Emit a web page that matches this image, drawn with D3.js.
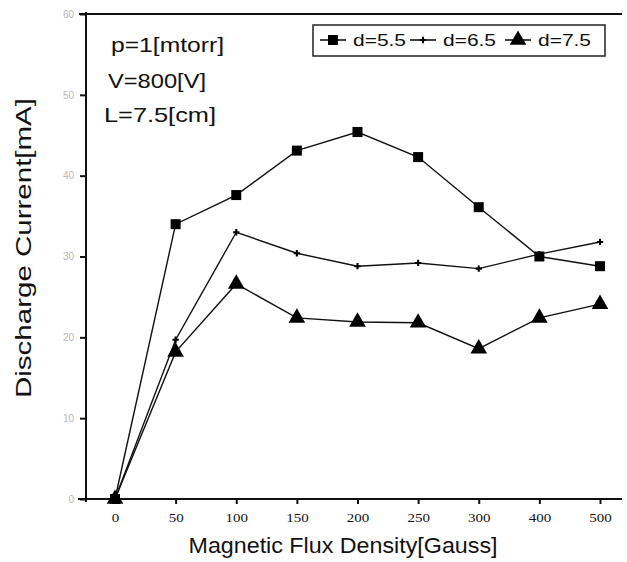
<!DOCTYPE html>
<html><head><meta charset="utf-8">
<script src="https://cdn.jsdelivr.net/npm/d3@7"></script>
<style>body{margin:0;background:#fff}svg{display:block}</style>
</head><body>
<script>
const categories = ["0","50","100","150","200","250","300","400","500"];
const d55 = [0, 34.0, 37.6, 43.1, 45.4, 42.3, 36.1, 30.0, 28.8];
const d65 = [0, 19.7, 33.0, 30.4, 28.8, 29.2, 28.5, 30.3, 31.8];
const d75 = [0, 18.2, 26.6, 22.4, 21.9, 21.8, 18.6, 22.4, 24.1];
const yTicks = [0, 10, 20, 30, 40, 50, 60];
const seriesNames = ["d=5.5", "d=6.5", "d=7.5"];
const notes = ["p=1[mtorr]", "V=800[V]", "L=7.5[cm]"];

const W = 627, H = 562;
const svg = d3.select("body").append("svg").attr("width", W).attr("height", H)
  .style("font-family", "'Liberation Sans', Arial, sans-serif");

const x = d3.scalePoint().domain(categories).range([115, 600]);
const y = d3.scaleLinear().domain([0, 60]).range([499, 14]);

// frame lines
svg.append("line").attr("x1", 79).attr("x2", 622).attr("y1", y(60)).attr("y2", y(60))
  .attr("stroke", "#111").attr("stroke-width", 2);
svg.append("line").attr("x1", 78).attr("x2", 622).attr("y1", y(0)).attr("y2", y(0))
  .attr("stroke", "#111").attr("stroke-width", 2);
svg.append("line").attr("x1", 86).attr("x2", 86).attr("y1", 12).attr("y2", 502)
  .attr("stroke", "#111").attr("stroke-width", 2);

// x axis
const xa = svg.append("g").attr("transform", `translate(0,${y(0)})`)
  .call(d3.axisBottom(x).tickSize(5).tickPadding(9));
xa.select(".domain").remove();
xa.selectAll(".tick line").attr("stroke", "#111").attr("stroke-width", 2);
xa.selectAll(".tick text").attr("fill", "#111").style("font-size", "13px")
  .style("font-family", "'Liberation Serif', serif")
  .attr("textLength", d => d.length * 7.5).attr("lengthAdjust", "spacingAndGlyphs");

// y axis
const ya = svg.append("g").attr("transform", `translate(86,0)`)
  .call(d3.axisLeft(y).tickValues(yTicks).tickSize(6).tickPadding(6));
ya.select(".domain").remove();
ya.selectAll(".tick line").attr("stroke", "#111").attr("stroke-width", 2);
ya.selectAll(".tick text").attr("fill", "#b8b8b8").style("font-size", "10px");

// axis titles
svg.append("text").attr("x", 343).attr("y", 553).attr("text-anchor", "middle")
  .style("font-size", "22px").attr("fill", "#111")
  .attr("textLength", 309).attr("lengthAdjust", "spacingAndGlyphs")
  .text("Magnetic Flux Density[Gauss]");
svg.append("text").attr("transform", "translate(31,248) rotate(-90)").attr("text-anchor", "middle")
  .style("font-size", "22px").attr("fill", "#111")
  .attr("textLength", 300).attr("lengthAdjust", "spacingAndGlyphs")
  .text("Discharge Current[mA]");

// notes
const noteY = [52, 88, 122], noteX = [111, 108, 104], noteLen = [113, 98, 112];
notes.forEach((t, i) => {
  svg.append("text").attr("x", noteX[i]).attr("y", noteY[i])
    .style("font-size", "21px").attr("fill", "#111")
    .attr("textLength", noteLen[i]).attr("lengthAdjust", "spacingAndGlyphs").text(t);
});

const series = [
  {name: seriesNames[0], values: d55, sym: d3.symbolSquare, size: 100},
  {name: seriesNames[1], values: d65, sym: d3.symbolCross, size: 22},
  {name: seriesNames[2], values: d75, sym: d3.symbolTriangle, size: 120}
];

const line = d3.line().x((d, i) => x(categories[i])).y(d => y(d));
series.forEach(s => {
  svg.append("path").datum(s.values).attr("d", line)
    .attr("fill", "none").attr("stroke", "#111").attr("stroke-width", 1.4);
  svg.append("g").selectAll("path").data(s.values).join("path")
    .attr("transform", (d, i) => `translate(${x(categories[i])},${y(d)})`)
    .attr("d", d3.symbol().type(s.sym).size(s.size))
    .attr("fill", "#000");
});

// legend
const lg = svg.append("g");
lg.append("rect").attr("x", 313).attr("y", 25).attr("width", 292).attr("height", 31)
  .attr("fill", "#fff").attr("stroke", "#222").attr("stroke-width", 1.5);
const legX = [320, 410, 505];
series.forEach((s, i) => {
  const lx = legX[i];
  lg.append("line").attr("x1", lx).attr("x2", lx + 26).attr("y1", 40).attr("y2", 40)
    .attr("stroke", "#111").attr("stroke-width", 1.6);
  lg.append("path").attr("transform", `translate(${lx + 13},40)`)
    .attr("d", d3.symbol().type(s.sym).size(s.size)).attr("fill", "#000");
  lg.append("text").attr("x", lx + 33).attr("y", 46).style("font-size", "16px")
    .attr("fill", "#111").attr("textLength", 53).attr("lengthAdjust", "spacingAndGlyphs")
    .text(s.name);
});
</script>
</body></html>
